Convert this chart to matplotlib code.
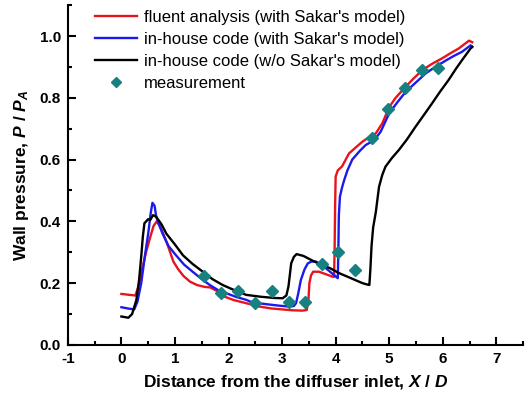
import numpy as np
import matplotlib
matplotlib.use('Agg')
import matplotlib.pyplot as plt
from matplotlib.ticker import MultipleLocator

plt.rcParams['font.family'] = ['Liberation Sans', 'DejaVu Sans']
plt.rcParams['mathtext.fontset'] = 'custom'
plt.rcParams['mathtext.it'] = 'Liberation Sans:italic:bold'
plt.rcParams['mathtext.rm'] = 'Liberation Sans:bold'
plt.rcParams['axes.unicode_minus'] = False

# fluent analysis (with Sakar's model)
fluent_x = [0.0, 0.26, 0.32, 0.38, 0.46, 0.54, 0.60, 0.66, 0.72, 0.78, 0.85, 0.97,
            1.06, 1.16, 1.28, 1.41, 1.55, 1.66, 1.78, 1.90, 2.10, 2.33, 2.58, 2.80,
            3.00, 3.20, 3.38, 3.46, 3.49, 3.51, 3.54, 3.58, 3.69, 3.80, 3.94, 3.97,
            3.98, 3.99, 4.00, 4.04, 4.12, 4.25, 4.38, 4.50, 4.62, 4.75, 4.87, 5.00,
            5.12, 5.25, 5.44, 5.62, 5.80, 5.99, 6.15, 6.30, 6.49, 6.55]
fluent_y = [0.165, 0.16, 0.19, 0.24, 0.30, 0.35, 0.385, 0.40, 0.385, 0.36, 0.33, 0.27,
            0.245, 0.223, 0.205, 0.194, 0.188, 0.186, 0.175, 0.158, 0.145, 0.135, 0.124, 0.118,
            0.115, 0.112, 0.111, 0.113, 0.14, 0.20, 0.225, 0.237, 0.237, 0.23, 0.221, 0.22,
            0.30, 0.45, 0.545, 0.565, 0.578, 0.62, 0.64, 0.658, 0.672, 0.685, 0.717, 0.77,
            0.80, 0.825, 0.86, 0.89, 0.91, 0.928, 0.945, 0.96, 0.985, 0.98]

# in-house code (with Sakar's model)
inhouse_x = [0.0, 0.12, 0.24, 0.30, 0.37, 0.44, 0.50, 0.55, 0.58, 0.62, 0.65, 0.70,
             0.77, 0.88, 1.02, 1.17, 1.33, 1.50, 1.65, 1.80, 1.96, 2.15, 2.33, 2.45,
             2.70, 2.95, 3.14, 3.22, 3.26, 3.30, 3.35, 3.42, 3.48, 3.55, 3.63, 3.72,
             3.82, 3.93, 4.04, 4.05, 4.06, 4.08, 4.12, 4.16, 4.22, 4.31, 4.45, 4.56,
             4.72, 4.84, 4.92, 5.00, 5.15, 5.31, 5.50, 5.68, 5.86, 6.05, 6.20, 6.36,
             6.52, 6.55]
inhouse_y = [0.122, 0.118, 0.115, 0.14, 0.20, 0.29, 0.36, 0.43, 0.46, 0.45, 0.415, 0.39,
             0.36, 0.32, 0.29, 0.26, 0.237, 0.213, 0.194, 0.178, 0.167, 0.155, 0.146, 0.137,
             0.132, 0.127, 0.124, 0.126, 0.135, 0.165, 0.21, 0.245, 0.264, 0.27, 0.27, 0.26,
             0.248, 0.232, 0.216, 0.30, 0.42, 0.48, 0.51, 0.534, 0.565, 0.60, 0.628, 0.647,
             0.663, 0.69, 0.72, 0.75, 0.785, 0.82, 0.85, 0.879, 0.90, 0.92, 0.935, 0.949,
             0.97, 0.965]

# in-house code (w/o Sakar's model)
nosakar_x = [0.0, 0.13, 0.20, 0.28, 0.33, 0.37, 0.40, 0.43, 0.50, 0.54, 0.59, 0.65,
             0.75, 0.84, 1.00, 1.15, 1.33, 1.52, 1.70, 1.89, 2.10, 2.33, 2.60, 2.85,
             3.01, 3.08, 3.12, 3.17, 3.22, 3.27, 3.40, 3.60, 3.75, 3.90, 4.07, 4.30,
             4.50, 4.60, 4.63, 4.65, 4.67, 4.70, 4.75, 4.81, 4.87, 4.93, 5.05, 5.18,
             5.33, 5.49, 5.65, 5.80, 5.95, 6.11, 6.25, 6.36, 6.52, 6.55]
nosakar_y = [0.092, 0.088, 0.10, 0.146, 0.21, 0.286, 0.35, 0.394, 0.407, 0.405, 0.42, 0.415,
             0.39, 0.36, 0.325, 0.29, 0.262, 0.237, 0.213, 0.194, 0.178, 0.162, 0.156, 0.152,
             0.151, 0.16, 0.19, 0.264, 0.285, 0.294, 0.288, 0.27, 0.259, 0.248, 0.232, 0.215,
             0.2, 0.195, 0.194, 0.25, 0.32, 0.38, 0.43, 0.512, 0.55, 0.577, 0.605, 0.631,
             0.665, 0.706, 0.745, 0.782, 0.82, 0.858, 0.895, 0.922, 0.96, 0.965]

# measurement
meas_x = [1.55, 1.86, 2.17, 2.50, 2.81, 3.12, 3.43, 3.74, 4.05, 4.37, 4.67, 4.98, 5.30, 5.61, 5.92]
meas_y = [0.223, 0.167, 0.173, 0.137, 0.175, 0.138, 0.138, 0.261, 0.30, 0.243, 0.671, 0.764,
          0.831, 0.89, 0.897]

fig = plt.figure(figsize=(5.30, 3.96), dpi=100)
ax = fig.add_axes([0.128, 0.129, 0.859, 0.858])

ax.plot(fluent_x, fluent_y, color='#e8141c', lw=1.7, label="fluent analysis (with Sakar's model)")
ax.plot(inhouse_x, inhouse_y, color='#1a1aee', lw=1.7, label="in-house code (with Sakar's model)")
ax.plot(nosakar_x, nosakar_y, color='black', lw=1.7, label="in-house code (w/o Sakar's model)")
ax.plot(meas_x, meas_y, ls='none', marker='D', ms=6, color='#178080', label='measurement')

ax.set_xlim(-1, 7.5)
ax.set_ylim(0, 1.1)
ax.xaxis.set_major_locator(MultipleLocator(1))
ax.xaxis.set_minor_locator(MultipleLocator(0.5))
ax.yaxis.set_minor_locator(MultipleLocator(0.1))
ax.set_yticks(np.arange(0, 1.01, 0.2))
ax.set_yticklabels([f'{v:.1f}' for v in np.arange(0, 1.01, 0.2)])

for side in ['top', 'right']:
    ax.spines[side].set_visible(False)
for side in ['left', 'bottom']:
    ax.spines[side].set_linewidth(1.5)
ax.tick_params(which='major', direction='in', length=6, width=1.5, labelsize=11, pad=5)
ax.tick_params(which='minor', direction='in', length=3, width=1.5)
for lbl in ax.get_xticklabels() + ax.get_yticklabels():
    lbl.set_fontweight('bold')

ax.set_xlabel('Distance from the diffuser inlet, $X$ / $D$', fontsize=12.5, fontweight='bold', labelpad=5)
ax.set_ylabel('Wall pressure, $P$ / $P_A$', fontsize=12.5, fontweight='bold', labelpad=6)

ax.legend(loc='upper left', bbox_to_anchor=(0.045, 1.005), frameon=False, fontsize=12,
          handlelength=2.5, handletextpad=0.45, labelspacing=0.42, borderaxespad=0,
          numpoints=1, markerscale=0.8)

fig.savefig('out.png', dpi=100)
